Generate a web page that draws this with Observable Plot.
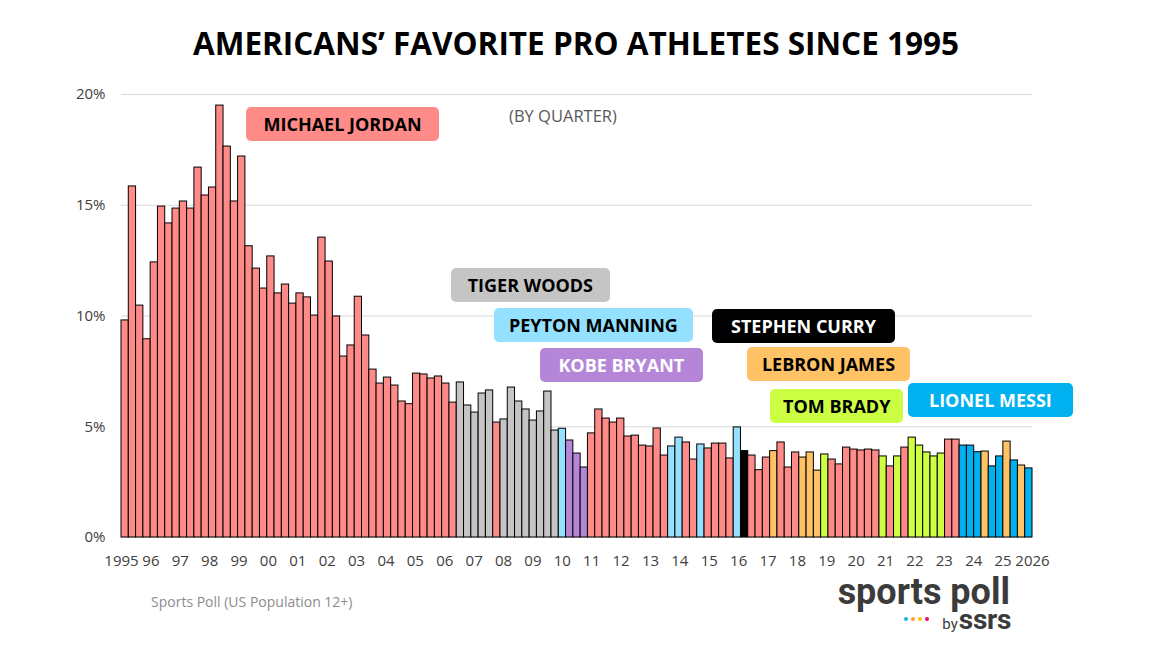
<!DOCTYPE html>
<html><head><meta charset="utf-8">
<script src="https://cdn.jsdelivr.net/npm/d3@7"></script>
<script src="https://cdn.jsdelivr.net/npm/@observablehq/plot@0.6"></script>
<style>
body{margin:0;background:#fff;}
#wrap{position:relative;width:1152px;height:648px;overflow:hidden;font-family:"Open Sans",sans-serif;background:#fff;}
#wrap svg{position:absolute;left:0;top:0;}
#title{position:absolute;left:0;top:24px;width:1152px;text-align:center;font-weight:700;font-size:31.5px;line-height:1.2;color:#000;letter-spacing:0px;}
.tag{position:absolute;box-sizing:border-box;border-radius:5px;font-weight:700;font-size:18px;display:flex;align-items:center;justify-content:center;white-space:nowrap;}
.note{position:absolute;font-size:16.5px;color:#595959;white-space:nowrap;transform:translate(-50%,-50%);}
#source{position:absolute;left:151px;top:592px;font-size:14px;color:#8c8c8c;}
#logo{position:absolute;left:818px;top:577px;width:192px;text-align:right;font-family:Roboto,sans-serif;font-weight:700;color:#3b3b3b;}
#logo1{font-size:36px;line-height:30px;letter-spacing:0px;white-space:nowrap;}
#logo2{font-size:28px;line-height:26px;letter-spacing:-0.3px;white-space:nowrap;margin-right:-1px;}
#logo2 span{font-size:15px;font-weight:400;letter-spacing:0;margin-right:1px;}
.dot{position:absolute;width:4px;height:4px;border-radius:50%;top:617px;}
</style></head>
<body><div id="wrap"><div id="title">AMERICANS’ FAVORITE PRO ATHLETES SINCE 1995</div></div>
<script>
const startYear = 1995, endYear = 2026;
const shares = [
  9.80,15.85,10.47,8.95,12.42,14.94,14.18,14.85,15.17,14.85,
  16.70,15.44,15.80,19.50,17.65,15.17,17.20,13.15,12.14,11.24,
  12.69,11.02,11.42,10.56,11.02,10.84,10.02,13.54,12.46,9.98,
  8.17,8.67,10.87,9.12,7.58,6.95,7.22,6.86,6.14,6.02,
  7.40,7.36,7.18,7.27,6.95,6.09,7.00,5.96,5.64,6.50,
  6.64,5.19,5.33,6.77,6.14,5.78,5.28,5.69,6.59,4.83,
  4.91,4.38,3.79,3.16,4.70,5.78,5.37,5.19,5.37,4.56,
  4.60,4.15,4.11,4.92,3.70,4.11,4.51,4.29,3.52,4.20,
  4.02,4.24,4.24,3.57,4.97,3.90,3.70,3.04,3.61,3.90,
  4.29,3.16,3.84,3.61,3.84,3.02,3.75,3.52,3.30,4.06,
  3.97,3.93,3.97,3.93,3.66,3.21,3.66,4.06,4.51,4.15,
  3.84,3.66,3.79,4.42,4.42,4.15,4.15,3.85,3.88,3.21,
  3.66,4.33,3.48,3.25,3.12
];
// leader per quarter: J Jordan, T Tiger, P Peyton, K Kobe, C Curry, L LeBron, B Brady, M Messi
const leaders = [
  "J","J","J","J","J","J","J","J","J","J",
  "J","J","J","J","J","J","J","J","J","J",
  "J","J","J","J","J","J","J","J","J","J",
  "J","J","J","J","J","J","J","J","J","J",
  "J","J","J","J","J","J","T","T","T","T",
  "T","J","T","T","T","T","T","T","T","T",
  "P","K","K","K","J","J","J","J","J","J",
  "J","J","J","J","J","P","P","J","J","P",
  "J","J","J","J","P","C","J","J","J","L",
  "J","J","J","L","L","L","B","J","J","J",
  "J","J","J","J","B","J","B","J","B","B",
  "B","B","B","J","J","M","M","M","L","M",
  "M","L","M","L","M"
];
const athleteCodes  = ["J","T","P","K","C","L","B","M"];
const athleteNames  = ["MICHAEL JORDAN","TIGER WOODS","PEYTON MANNING","KOBE BRYANT","STEPHEN CURRY","LEBRON JAMES","TOM BRADY","LIONEL MESSI"];
const athleteColors = ["#ff8b88","#c6c5c6","#93e0ff","#b586d8","#000000","#ffc265","#ccff44","#00b0ef"];
const athleteText   = ["#000","#000","#000","#fff","#fff","#000","#000","#fff"];
// label boxes (x in years, y centre in %)
const tagX1 = [1999.27,2006.22,2007.69,2009.25,2015.11,2016.30,2017.09,2021.79];
const tagX2 = [2005.81,2011.64,2014.46,2014.80,2021.34,2021.85,2021.62,2027.38];
const tagY  = [18.66,11.39,9.58,7.78,9.54,7.80,5.93,6.18];
const yearTicks = d3.range(startYear, endYear + 1);
const yearLabels = yearTicks.map(y => (y === startYear || y === endYear) ? String(y) : String(y % 100).padStart(2, "0"));
const pctTicks = [0, 5, 10, 15, 20];

const n = shares.length;
const step = (endYear - startYear) / n;
const bars = shares.map((v, i) => ({
  x1: startYear + i * step,
  x2: startYear + (i + 1) * step,
  v,
  who: athleteNames[athleteCodes.indexOf(leaders[i])]
}));

const plot = Plot.plot({
  width: 1152,
  height: 648,
  marginTop: 94,
  marginBottom: 111,
  marginLeft: 121,
  marginRight: 120,
  style: {fontFamily: "Open Sans, sans-serif", fontSize: "15px", color: "#404040", background: "transparent"},
  x: {domain: [startYear, endYear], axis: null, label: null},
  y: {domain: [0, 20], axis: null, label: null},
  color: {domain: athleteNames, range: athleteColors},
  marks: [
    Plot.ruleY(pctTicks, {stroke: "#d9d9d9", strokeWidth: 1}),
    Plot.rect(bars, {x1: "x1", x2: "x2", y1: 0, y2: "v", fill: "who", stroke: "#000", strokeWidth: 1}),
    Plot.axisX(yearTicks, {tickSize: 0, tickPadding: 18, tickFormat: (d, i) => yearLabels[i], fontSize: 15, label: null}),
    Plot.axisY(pctTicks, {tickSize: 0, tickPadding: 16, tickFormat: d => d + "%", fontSize: 15, label: null})
  ]
});
const wrap = document.getElementById("wrap");
wrap.appendChild(plot);

const xs = plot.scale("x"), ys = plot.scale("y");
athleteNames.forEach((name, k) => {
  const d = document.createElement("div");
  d.className = "tag";
  const l = xs.apply(tagX1[k]), r = xs.apply(tagX2[k]);
  const c = ys.apply(tagY[k]);
  d.style.left = l + "px";
  d.style.width = (r - l) + "px";
  d.style.top = (c - 17) + "px";
  d.style.height = "34px";
  d.style.background = athleteColors[k];
  d.style.color = athleteText[k];
  d.textContent = name;
  wrap.appendChild(d);
});
const note = document.createElement("div");
note.className = "note";
note.textContent = "(BY QUARTER)";
note.style.left = xs.apply(2010.04) + "px";
note.style.top = ys.apply(19.07) + "px";
wrap.appendChild(note);

const src = document.createElement("div");
src.id = "source"; src.textContent = "Sports Poll (US Population 12+)";
wrap.appendChild(src);
const logo = document.createElement("div"); logo.id = "logo";
logo.innerHTML = '<div id="logo1">sports poll</div><div id="logo2"><span>by</span>ssrs</div>';
wrap.appendChild(logo);
const dotColors = ["#17b4ea", "#f7a21b", "#f2c40c", "#e5087e"];
dotColors.forEach((c, k) => {
  const d = document.createElement("div"); d.className = "dot";
  d.style.left = (904 + k * 7) + "px"; d.style.background = c; wrap.appendChild(d);
});
</script></body></html>
